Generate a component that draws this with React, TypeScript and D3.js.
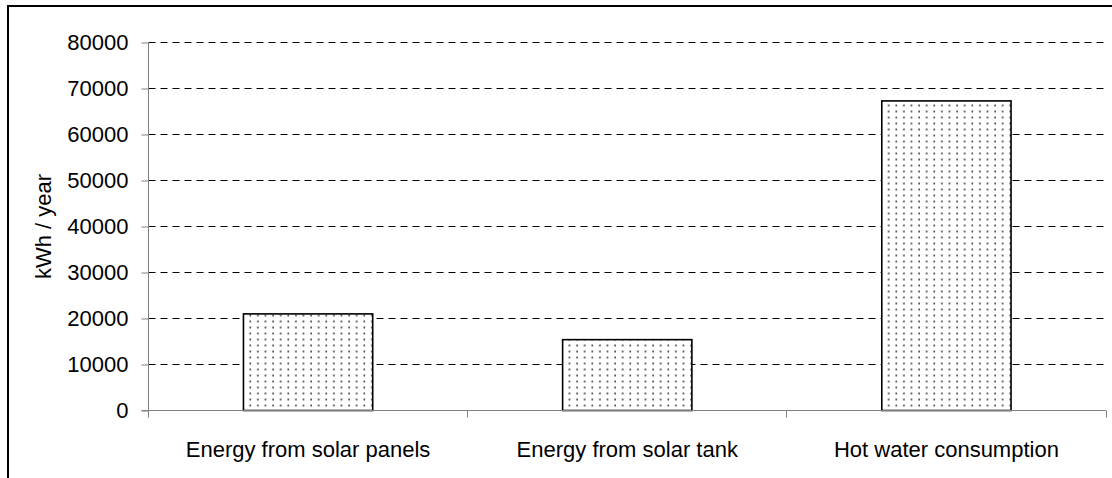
import React, { useRef, useEffect } from 'react';
import * as d3 from 'd3';

const categories = ['Energy from solar panels', 'Energy from solar tank', 'Hot water consumption'];
const values = [21000, 15400, 67300];
const yTicks = [0, 10000, 20000, 30000, 40000, 50000, 60000, 70000, 80000];
const yLabel = 'kWh / year';

const W = 1112;
const H = 478;
const FONT = 'Liberation Sans, Arial, sans-serif';

const App: React.FC = () => {
  const svgRef = useRef<SVGSVGElement>(null);

  useEffect(() => {
    if (!svgRef.current) return;
    const svg = d3.select(svgRef.current);
    svg.selectAll('*').remove();

    const margin = { top: 42.5, left: 148.5, right: 6 };
    const innerW = W - margin.left - margin.right;
    const innerH = 368;

    // dotted fill pattern
    const defs = svg.append('defs');
    const pat = defs
      .append('pattern')
      .attr('id', 'dots')
      .attr('patternUnits', 'userSpaceOnUse')
      .attr('width', 7.6)
      .attr('height', 6);
    pat.append('rect').attr('width', 7.6).attr('height', 6).attr('fill', '#fff');
    pat.append('circle').attr('cx', 3).attr('cy', 3).attr('r', 0.9).attr('fill', '#333');

    // outer frame
    svg
      .append('rect')
      .attr('x', 8)
      .attr('y', 6)
      .attr('width', W + 20)
      .attr('height', H + 20)
      .attr('fill', 'none')
      .attr('stroke', '#000')
      .attr('stroke-width', 2);

    const g = svg.append('g').attr('transform', `translate(${margin.left},${margin.top})`);

    const x = d3.scaleBand().domain(categories).range([0, innerW]).paddingInner(0).paddingOuter(0);
    const y = d3.scaleLinear().domain([0, 80000]).range([innerH, 0]);

    // gridlines
    g.selectAll('.grid')
      .data(yTicks.filter((t) => t > 0))
      .enter()
      .append('line')
      .attr('x1', 0)
      .attr('x2', innerW)
      .attr('y1', (d) => Math.round(y(d)))
      .attr('y2', (d) => Math.round(y(d)))
      .attr('stroke', '#000')
      .attr('stroke-width', 1)
      .attr('stroke-dasharray', '7,5');

    // bars
    const barW = x.bandwidth() * 0.405;
    g.selectAll('.bar')
      .data(categories)
      .enter()
      .append('rect')
      .attr('x', (d) => x(d)! + (x.bandwidth() - barW) / 2)
      .attr('y', (d, i) => y(values[i]))
      .attr('width', barW)
      .attr('height', (d, i) => innerH - y(values[i]))
      .attr('fill', 'url(#dots)')
      .attr('stroke', '#000')
      .attr('stroke-width', 1.6);

    // y axis
    const yAxis = d3.axisLeft(y).tickValues(yTicks).tickSize(7).tickPadding(13).tickFormat((d) => String(d));
    const ya = g.append('g').call(yAxis);
    ya.attr('font-family', FONT).attr('font-size', 22);
    ya.select('.domain').attr('stroke', '#808080').attr('d', `M0,${innerH + 7}V0`);
    ya.selectAll('.tick line').attr('stroke', '#808080');
    ya.selectAll('text').attr('fill', '#000');

    // x axis
    g.append('line')
      .attr('x1', -7)
      .attr('x2', innerW)
      .attr('y1', innerH)
      .attr('y2', innerH)
      .attr('stroke', '#808080');
    g.selectAll('.xtick')
      .data([...categories.map((c) => x(c)!), innerW])
      .enter()
      .append('line')
      .attr('x1', (d) => Math.round(d))
      .attr('x2', (d) => Math.round(d))
      .attr('y1', innerH)
      .attr('y2', innerH + 7)
      .attr('stroke', '#808080');
    g.selectAll('.xlabel')
      .data(categories)
      .enter()
      .append('text')
      .attr('x', (d) => x(d)! + x.bandwidth() / 2)
      .attr('y', innerH + 46)
      .attr('text-anchor', 'middle')
      .attr('font-family', FONT)
      .attr('font-size', 22)
      .attr('fill', '#000')
      .text((d) => d);

    // y title
    svg
      .append('text')
      .attr('transform', `translate(51,${margin.top + innerH / 2}) rotate(-90)`)
      .attr('text-anchor', 'middle')
      .attr('font-family', FONT)
      .attr('font-size', 22)
      .attr('fill', '#000')
      .text(yLabel);
  }, []);

  return (
    <svg
      ref={svgRef}
      width={W}
      height={H}
      style={{ position: 'absolute', left: 0, top: 0, background: '#fff' }}
    />
  );
};

export default App;
